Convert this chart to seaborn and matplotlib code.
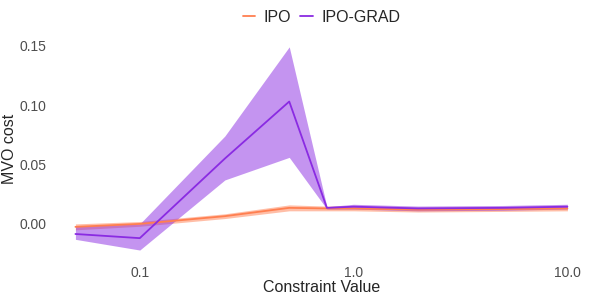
import numpy as np
import pandas as pd
import matplotlib
matplotlib.use("Agg")
import matplotlib.pyplot as plt
import seaborn as sns

# constraint values (log x axis)
constraint = [0.05, 0.1, 0.25, 0.5, 0.75, 1.0, 2.0, 5.0, 10.0]

# IPO: mean and band
ipo_mean = [-0.0025, 0.0000, 0.0065, 0.0135, 0.0130, 0.0130, 0.0120, 0.0125, 0.0130]
ipo_low = [-0.0050, -0.0020, 0.0045, 0.0110, 0.0110, 0.0110, 0.0100, 0.0105, 0.0110]
ipo_high = [0.0000, 0.0020, 0.0085, 0.0160, 0.0150, 0.0150, 0.0140, 0.0145, 0.0150]

# IPO-GRAD: mean and band
grad_mean = [-0.0085, -0.0120, 0.0550, 0.1030, 0.0135, 0.0145, 0.0130, 0.0135, 0.0145]
grad_low = [-0.0130, -0.0220, 0.0370, 0.0560, 0.0125, 0.0125, 0.0110, 0.0115, 0.0125]
grad_high = [-0.0020, 0.0000, 0.0740, 0.1490, 0.0145, 0.0165, 0.0150, 0.0155, 0.0165]

methods = ["IPO", "IPO-GRAD"]
colors = {"IPO": "#FF7F50", "IPO-GRAD": "#8A2BE2"}

df = pd.DataFrame({
    "Constraint Value": constraint * 2,
    "MVO cost": ipo_mean + grad_mean,
    "low": ipo_low + grad_low,
    "high": ipo_high + grad_high,
    "method": ["IPO"] * len(constraint) + ["IPO-GRAD"] * len(constraint),
})

sns.set_style("white")
plt.rcParams["font.family"] = ["Liberation Sans", "DejaVu Sans"]

fig, ax = plt.subplots(figsize=(5.98, 2.99), dpi=100)

for m in methods:
    d = df[df["method"] == m]
    ax.fill_between(d["Constraint Value"], d["low"], d["high"],
                    color=colors[m], alpha=0.5, linewidth=0)

sns.lineplot(data=df, x="Constraint Value", y="MVO cost", hue="method",
             hue_order=methods, palette=colors, linewidth=1.3, ax=ax,
             errorbar=None)

ax.set_xscale("log")
ax.set_xticks([0.1, 1.0, 10.0])
ax.set_xticklabels(["0.1", "1.0", "10.0"])
ax.minorticks_off()
ax.set_yticks([0.0, 0.05, 0.10, 0.15])
ax.set_yticklabels(["0.00", "0.05", "0.10", "0.15"])
lo, hi = np.log10(0.05), np.log10(10.0)
pad = 0.05 * (hi - lo)
ax.set_xlim(10 ** (lo - pad), 10 ** (hi + pad))
ax.set_ylim(-0.0305, 0.157)

ax.tick_params(axis="both", labelsize=10, labelcolor="#4D4D4D", length=2,
               color="#4D4D4D", width=0.5, pad=1)
ax.tick_params(axis="x", direction="in", pad=4)
ax.set_xlabel("Constraint Value", fontsize=11.5, labelpad=0)
ax.set_ylabel("MVO cost", fontsize=11.5)
ax.yaxis.set_label_coords(-0.063, 0.5)
for s in ax.spines.values():
    s.set_visible(False)

leg = ax.legend(loc="lower center", bbox_to_anchor=(0.5, 1.02), ncol=2,
                frameon=False, fontsize=11.5, handlelength=0.8,
                handletextpad=0.5, columnspacing=0.6, borderaxespad=0.1)

fig.subplots_adjust(left=0.085, right=0.99, top=0.875, bottom=0.13)
fig.savefig("out.png", dpi=100)
